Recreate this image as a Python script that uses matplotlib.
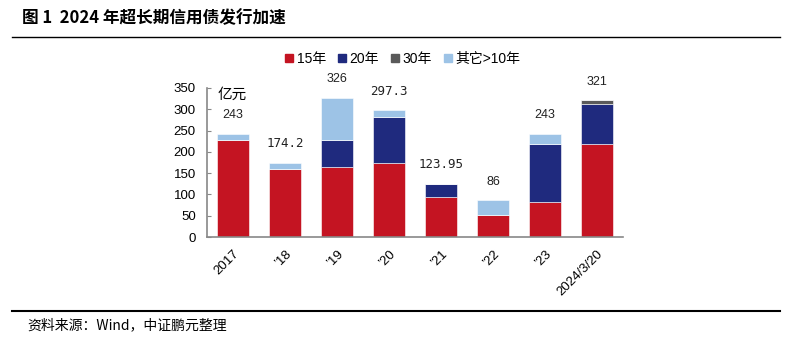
import matplotlib
matplotlib.use("Agg")
import matplotlib.pyplot as plt
from matplotlib.patches import Rectangle
from matplotlib.lines import Line2D

plt.rcParams['font.family'] = ['Liberation Sans', 'Noto Sans CJK SC', 'DejaVu Sans']

categories = ['2017', '’18', '’19', '’20', '’21', '’22', '’23', '2024/3/20']
s15 = [229, 160, 165, 173, 93, 51, 82, 218]
s20 = [0, 0, 63, 110, 31, 0, 136, 94]
s30 = [0, 0, 0, 0, 0, 0, 0, 9]
other = [14, 14.2, 98, 14.3, 0, 35, 25, 0]
totals = ['243', '174.2', '326', '297.3', '123.95', '86', '243', '321']
series_names = ['15年', '20年', '30年', '其它>10年']
colors = ['#C41422', '#1F2A7E', '#5A5A5A', '#9DC3E6']

fig = plt.figure(figsize=(7.95, 3.4), dpi=100)
ax = fig.add_axes([207/795, 1-237/340, 416/795, 149/340])

x = list(range(len(categories)))
bottom = [0]*len(categories)
for vals, col in zip([s15, s20, s30, other], colors):
    ax.bar(x, vals, width=0.62, bottom=bottom, color=col, edgecolor='white', linewidth=0.4)
    bottom = [b+v for b, v in zip(bottom, vals)]

for xi, top, lab in zip(x, bottom, totals):
    fam = ['Liberation Sans'] if lab in ('243', '326', '86', '321') else ['DejaVu Sans Mono']
    ax.text(xi, top + 30, lab, ha='center', va='bottom', fontsize=9, family=fam, color='#222222')

ax.set_xlim(-0.5, 7.5)
ax.set_ylim(0, 350)
ax.set_yticks(range(0, 351, 50))
ax.tick_params(axis='y', direction='in', length=3, color='#888888', labelsize=9.5, pad=8)
ax.tick_params(axis='x', length=0, labelsize=9.5, pad=8)
ax.set_xticks(x)
ax.set_xticklabels(categories, rotation=45, ha='right', rotation_mode='anchor')
for s in ['top', 'right']:
    ax.spines[s].set_visible(False)
ax.spines['left'].set_color('#888888')
ax.spines['bottom'].set_color('#888888')
ax.spines['left'].set_linewidth(1.2)
ax.spines['bottom'].set_linewidth(1.2)

ax.text(0.025, 1.0, '亿元', transform=ax.transAxes, ha='left', va='top', fontsize=10.5,
        family=['Noto Sans CJK SC'])

handles = [Rectangle((0, 0), 1, 1, color=c) for c in colors]
leg = fig.legend(handles, series_names, loc='center', bbox_to_anchor=(403/795, 1-59/340),
                 ncol=4, frameon=False, handlelength=0.55, handleheight=0.55,
                 handletextpad=0.25, columnspacing=0.9,
                 prop={'family': ['Liberation Sans', 'Noto Sans CJK SC'], 'size': 10})

fig.text(22/795, 1-18/340, '图 1  2024 年超长期信用债发行加速', ha='left', va='center',
         fontsize=12, fontweight='bold', family=['Noto Sans CJK SC'])
fig.add_artist(Line2D([12/795, 780/795], [1-37/340, 1-37/340], color='black', linewidth=1.0))
fig.add_artist(Line2D([12/795, 780/795], [1-311/340, 1-311/340], color='black', linewidth=1.5))
fig.text(27/795, 1-325/340, '资料来源：Wind，中证鹏元整理', ha='left', va='center',
         fontsize=10, family=['Noto Sans CJK SC'])

fig.savefig('out.png', dpi=100)
